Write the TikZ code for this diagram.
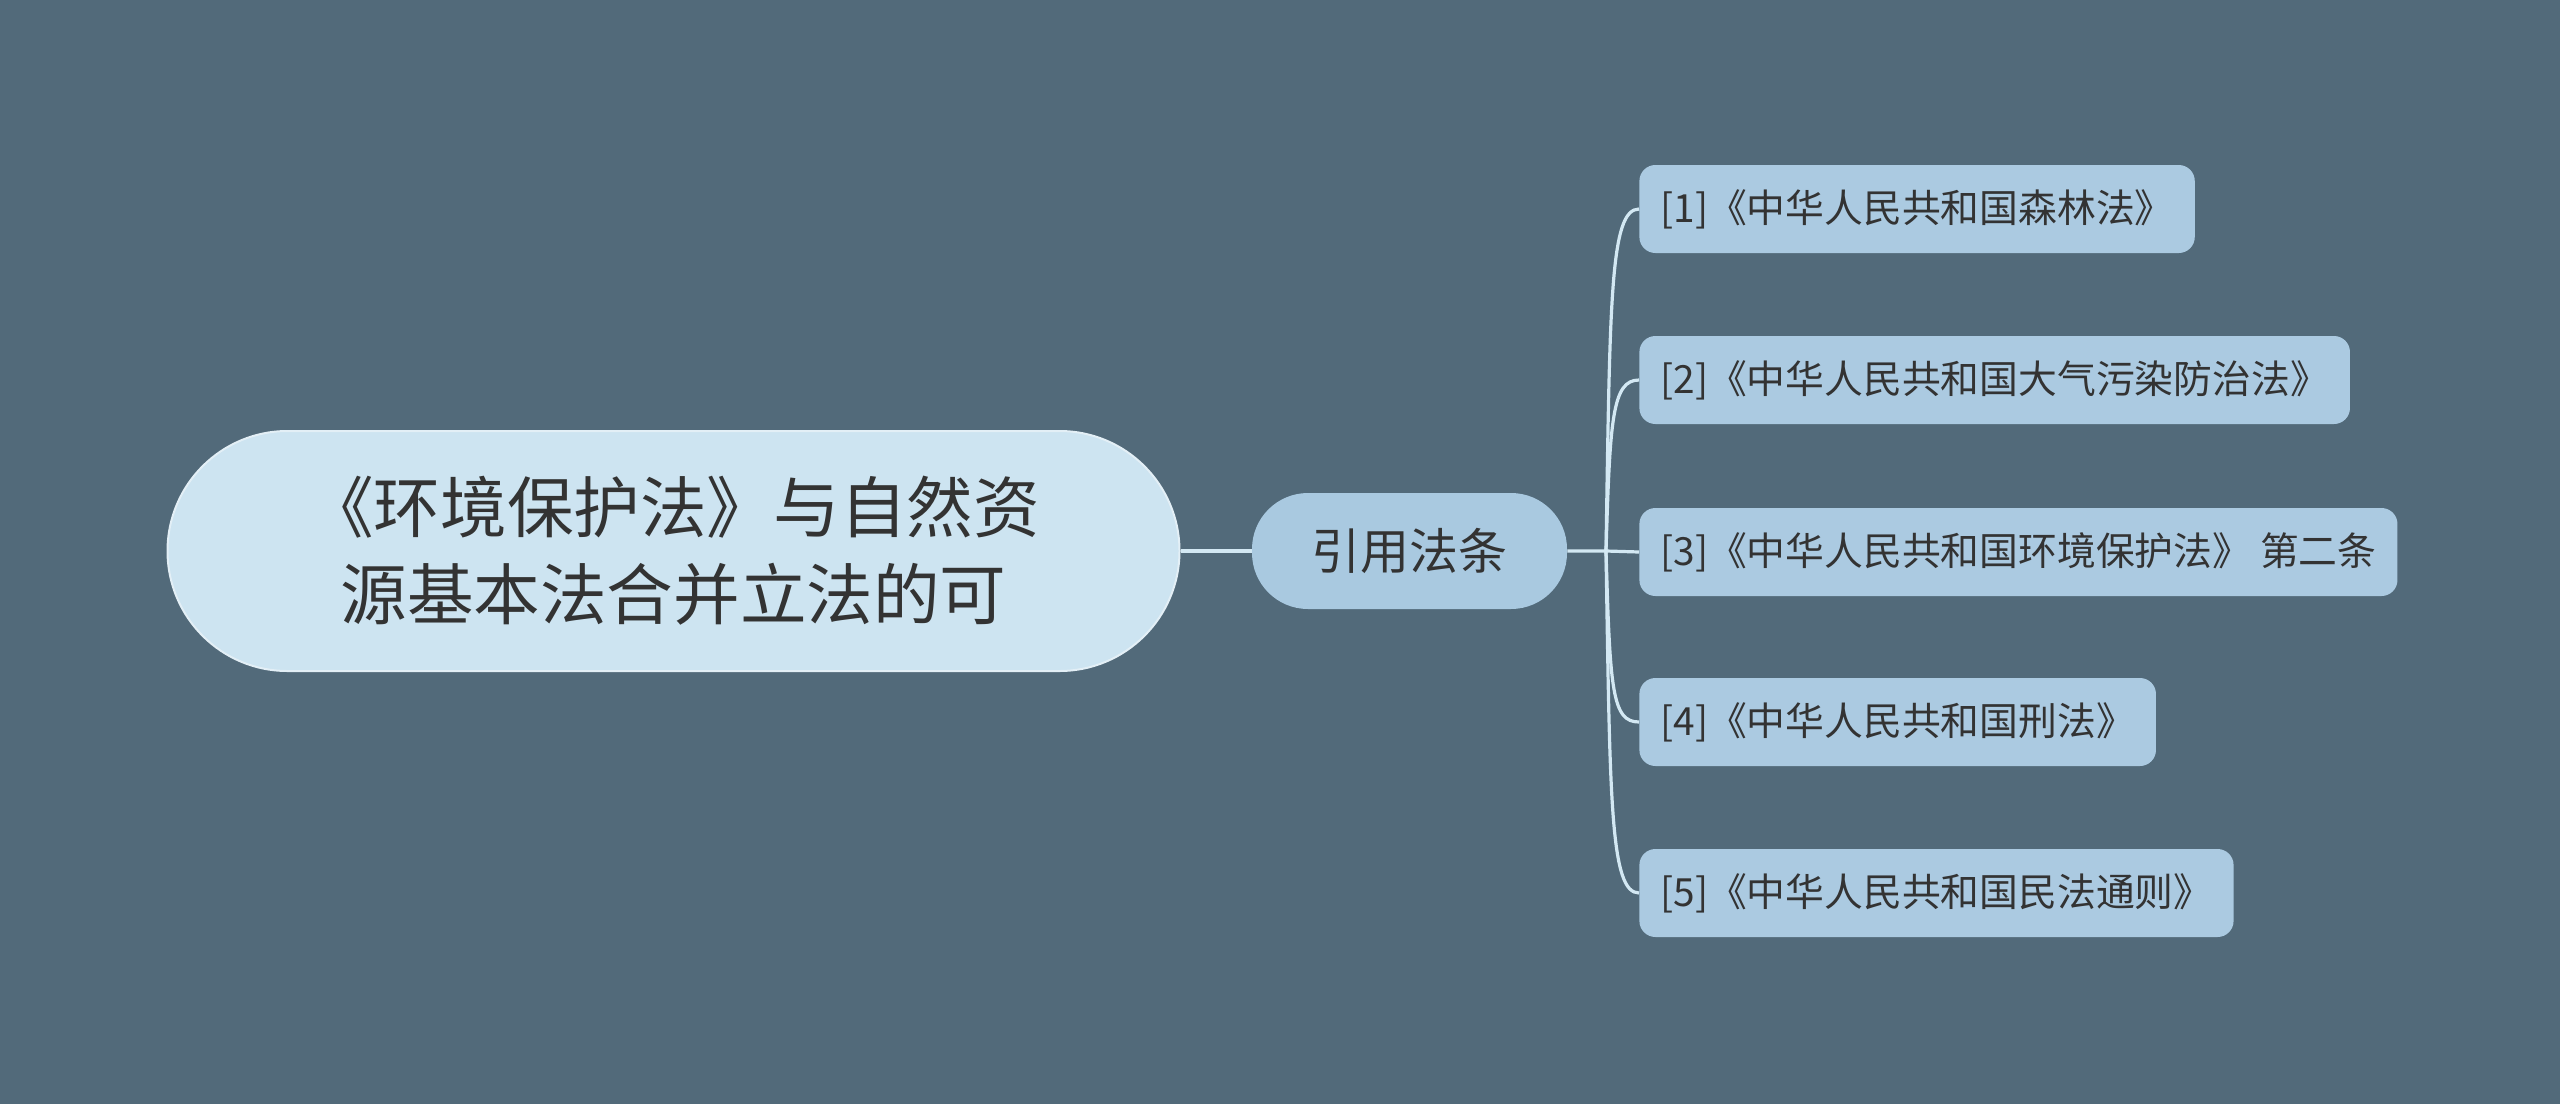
\documentclass[tikz,border=0pt]{standalone}
\usepackage{fontspec}
\newfontfamily\cjk{Noto Sans CJK SC}
\definecolor{bg}{HTML}{526A7A}
\definecolor{rootfill}{HTML}{CDE4F1}
\definecolor{rootdraw}{HTML}{E3EFF6}
\definecolor{midfill}{HTML}{A9C9E0}
\definecolor{leaffill}{HTML}{ABCAE1}
\definecolor{txt}{HTML}{333333}
\definecolor{wire}{HTML}{D3E8F3}
\tikzset{
  rootbox/.style={draw=rootdraw, line width=1pt, fill=rootfill, rounded corners=60pt,
    minimum width=506pt, minimum height=120pt, align=center, text=txt,
    font=\cjk\fontsize{33.3pt}{43.5pt}\selectfont, inner sep=0pt},
  midbox/.style={fill=midfill, rounded corners=28pt, minimum width=157.5pt,
    minimum height=58pt, text=txt, font=\cjk\fontsize{24.5pt}{28pt}\selectfont, inner sep=0pt},
  leafbox/.style={fill=leaffill, rounded corners=8pt, anchor=west, minimum height=44pt,
    inner xsep=10.5pt, text=txt, font=\cjk\fontsize{19.4pt}{23pt}\selectfont},
  wireline/.style={draw=wire, line width=1.6pt}
}
\begin{document}
\begin{tikzpicture}[x=0.5pt,y=-0.5pt]
\fill[bg] (0,0) rectangle (2560,1104);
\useasboundingbox (0,0) rectangle (2560,1104);
\node[rootbox] (root) at (673.5,551) {《环境保护法》与自然资\\源基本法合并立法的可};
\node[midbox] (mid) at (1409.5,551) {引用法条};
\node[leafbox] (l1) at (1639,209) {[1]《中华人民共和国森林法》};
\node[leafbox] (l2) at (1639,380) {[2]《中华人民共和国大气污染防治法》};
\node[leafbox] (l3) at (1639,552) {[3]《中华人民共和国环境保护法》 第二条};
\node[leafbox] (l4) at (1639,722) {[4]《中华人民共和国刑法》};
\node[leafbox] (l5) at (1639,893) {[5]《中华人民共和国民法通则》};
\coordinate (fork) at (1606,551);
\draw[wireline] (root.east) -- (mid.west);
\draw[wireline] (mid.east) -- (fork) -- (l3.west);
\draw[wireline] (fork) .. controls (1610,300) and (1610,209) .. (l1.west);
\draw[wireline] (fork) .. controls (1610,420) and (1612,380) .. (l2.west);
\draw[wireline] (fork) .. controls (1610,690) and (1612,722) .. (l4.west);
\draw[wireline] (fork) .. controls (1610,800) and (1610,893) .. (l5.west);
\end{tikzpicture}
\end{document}
